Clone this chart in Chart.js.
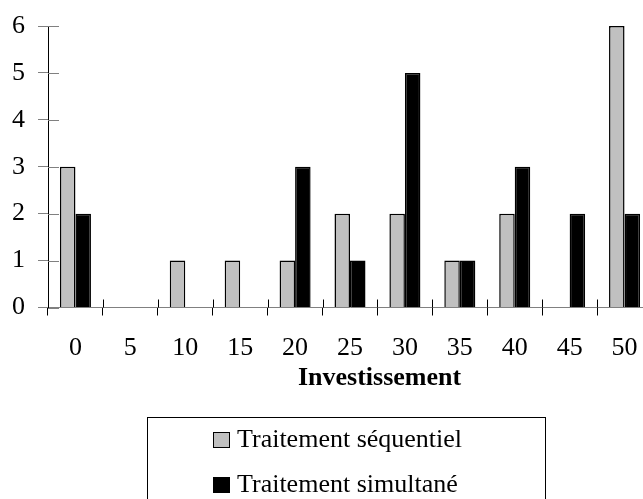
<!DOCTYPE html>
<html>
<head>
<meta charset="utf-8">
<script src="https://cdn.jsdelivr.net/npm/chart.js@4.4.1/dist/chart.umd.min.js"></script>
<style>
  html, body { margin: 0; padding: 0; background: #fff; overflow: hidden; }
  #wrap { position: absolute; left: 0; top: 0; width: 660px; height: 499px; }
</style>
</head>
<body>
<div id="wrap"><canvas id="chart" width="660" height="499"></canvas></div>
<script>
const categories = ['0', '5', '10', '15', '20', '25', '30', '35', '40', '45', '50'];
const sequentiel = [3, 0, 1, 1, 1, 2, 2, 1, 2, 0, 6];
const simultane = [2, 0, 0, 0, 3, 1, 5, 1, 3, 2, 2];
const seriesNames = ['Traitement séquentiel', 'Traitement simultané'];
const axisTitle = 'Investissement';

const FONT = '"Liberation Serif", "Times New Roman", serif';

// inner halves of the tick marks, the axis title and the boxed legend
const extras = {
  id: 'extras',
  afterDraw(chart) {
    const ctx = chart.ctx;
    const xs = chart.scales.x;
    const ys = chart.scales.y;
    ctx.save();

    ctx.lineWidth = 1;
    ctx.strokeStyle = '#808080';
    ys.ticks.forEach(t => {
      const py = Math.round(ys.getPixelForValue(t.value)) + 0.5;
      ctx.beginPath();
      ctx.moveTo(xs.left, py);
      ctx.lineTo(xs.left + 11, py);
      ctx.stroke();
    });

    ctx.strokeStyle = '#000';
    for (let i = 1; i < categories.length; i++) {
      const px = Math.round((xs.getPixelForValue(i - 1) + xs.getPixelForValue(i)) / 2) + 0.5;
      ctx.beginPath();
      ctx.moveTo(px, ys.bottom - 8);
      ctx.lineTo(px, ys.bottom);
      ctx.stroke();
    }

    ctx.fillStyle = '#000';
    ctx.font = 'bold 26px ' + FONT;
    ctx.textAlign = 'center';
    ctx.textBaseline = 'middle';
    ctx.fillText(axisTitle, 379.5, 378);

    ctx.strokeRect(147.5, 417.5, 398, 120);
    ctx.font = '26px ' + FONT;
    ctx.textAlign = 'left';
    ctx.textBaseline = 'alphabetic';
    chart.data.datasets.forEach((ds, i) => {
      const top = 432 + i * 45;
      ctx.fillStyle = ds.backgroundColor;
      ctx.fillRect(213, top, 17, 16);
      ctx.strokeStyle = '#000';
      ctx.strokeRect(213.5, top + 0.5, 16, 15);
      ctx.fillStyle = '#000';
      ctx.fillText(ds.label, 237, 447 + i * 45);
    });
    ctx.restore();
  }
};

new Chart(document.getElementById('chart'), {
  type: 'bar',
  data: {
    labels: categories,
    datasets: [
      {
        label: seriesNames[0],
        data: sequentiel,
        backgroundColor: '#c0c0c0',
        borderColor: '#000',
        borderWidth: 1.5
      },
      {
        label: seriesNames[1],
        data: simultane,
        backgroundColor: '#000',
        borderColor: '#000',
        borderWidth: 1.5
      }
    ]
  },
  options: {
    responsive: false,
    animation: false,
    events: [],
    layout: { padding: { top: 18, right: 8, bottom: 131.5, left: 0 } },
    datasets: { bar: { categoryPercentage: 0.565, barPercentage: 1 } },
    plugins: { legend: { display: false }, tooltip: { enabled: false } },
    scales: {
      x: {
        afterFit: s => { s.height = 60; },
        border: { display: true, color: '#808080', width: 1 },
        grid: { offset: true, drawOnChartArea: false, tickLength: 8, color: '#000' },
        ticks: { color: '#000', padding: 17, maxRotation: 0, font: { family: FONT, size: 26 } }
      },
      y: {
        min: 0,
        max: 6,
        afterFit: s => { s.width = 48; },
        border: { display: true, color: '#000', width: 1 },
        grid: { drawOnChartArea: false, tickLength: 10, color: '#808080' },
        ticks: { stepSize: 1, color: '#000', padding: 13, font: { family: FONT, size: 26, lineHeight: 1 } }
      }
    }
  },
  plugins: [extras]
});
</script>
</body>
</html>
